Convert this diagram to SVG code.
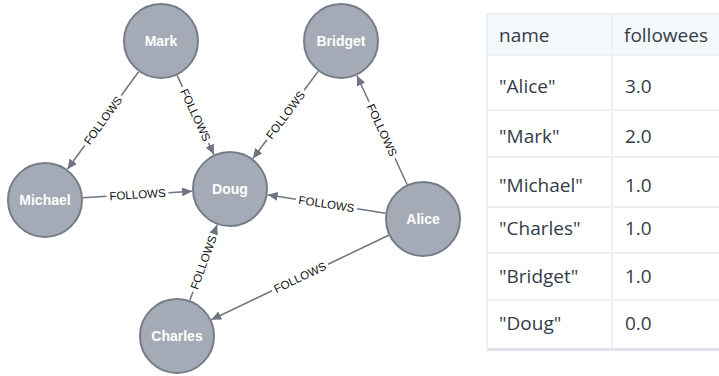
<svg xmlns="http://www.w3.org/2000/svg" width="719" height="376" viewBox="0 0 719 376">
<style>
.node circle{fill:#A5ABB6;stroke:#767D89;stroke-width:2}
.node text{fill:#FFFFFF;font-family:"Liberation Sans",Arial,sans-serif;font-size:14px;font-weight:bold;text-anchor:middle;dominant-baseline:central}
.edges line{stroke:#6E7481;stroke-width:1.5;fill:none}
.edges text{fill:#111111;font-family:"Liberation Sans",Arial,sans-serif;font-size:11.5px;text-anchor:middle;dominant-baseline:central}
.tbl text{fill:#343C48;font-family:"Open Sans",sans-serif;font-size:19px}
.sep{fill:#EDF0F4}
</style>
<defs>
<marker id="arr" markerUnits="userSpaceOnUse" markerWidth="11" markerHeight="9" refX="10" refY="4.5" orient="auto">
<path d="M0,0 L10,4.5 L0,9 z" fill="#6E7481"/>
</marker>
</defs>
<rect width="719" height="376" fill="#FFFFFF"/>
<g class="edges" id="connectors">
<line x1="138.6" y1="71.7" x2="121.3" y2="95.5"/><line x1="84.7" y1="145.5" x2="67.4" y2="169.3" marker-end="url(#arr)"/>
<text transform="translate(103,120.5) rotate(-53.9)">FOLLOWS</text>
<line x1="177.1" y1="75.4" x2="182.4" y2="86.9"/><line x1="208.6" y1="143.1" x2="213.9" y2="154.6" marker-end="url(#arr)"/>
<text transform="translate(195.5,115) rotate(65)">FOLLOWS</text>
<line x1="82.9" y1="197.7" x2="106.6" y2="196.3"/><line x1="168.4" y1="192.7" x2="192.1" y2="191.3" marker-end="url(#arr)"/>
<text transform="translate(137.5,194.5) rotate(-3.4)">FOLLOWS</text>
<line x1="318.2" y1="71.4" x2="304.1" y2="90.2"/><line x1="266.9" y1="139.8" x2="252.8" y2="158.6" marker-end="url(#arr)"/>
<text transform="translate(285.5,115) rotate(-53.1)">FOLLOWS</text>
<line x1="407.1" y1="184.5" x2="395.0" y2="158.2"/><line x1="369.0" y1="101.8" x2="356.9" y2="75.5" marker-end="url(#arr)"/>
<text transform="translate(382,130) rotate(65.3)">FOLLOWS</text>
<line x1="385.4" y1="213.2" x2="357.1" y2="208.8"/><line x1="295.9" y1="199.2" x2="267.6" y2="194.8" marker-end="url(#arr)"/>
<text transform="translate(326.5,204) rotate(8.8)">FOLLOWS</text>
<line x1="388.7" y1="235.3" x2="328.0" y2="264.2"/><line x1="272.0" y1="290.8" x2="211.3" y2="319.7" marker-end="url(#arr)"/>
<text transform="translate(300,277.5) rotate(-25.4)">FOLLOWS</text>
<line x1="189.9" y1="300.3" x2="193.0" y2="291.7"/><line x1="214.0" y1="233.3" x2="217.1" y2="224.7" marker-end="url(#arr)"/>
<text transform="translate(203.5,262.5) rotate(-70.2)">FOLLOWS</text>
</g>
<g class="node" id="node-mark"><circle cx="161" cy="41" r="37"/><text x="161" y="41">Mark</text></g>
<g class="node" id="node-bridget"><circle cx="341" cy="41" r="37"/><text x="341" y="41">Bridget</text></g>
<g class="node" id="node-michael"><circle cx="45" cy="200" r="37"/><text x="45" y="200">Michael</text></g>
<g class="node" id="node-doug"><circle cx="230" cy="189" r="37"/><text x="230" y="189">Doug</text></g>
<g class="node" id="node-alice"><circle cx="423" cy="219" r="37"/><text x="423" y="219">Alice</text></g>
<g class="node" id="node-charles"><circle cx="177" cy="336" r="37"/><text x="177" y="336">Charles</text></g>
<g class="tbl" id="table">
<rect x="487" y="14" width="232" height="41" fill="#F5F8FB"/>
<rect x="487" y="348" width="232" height="3" fill="#DFE4EA"/>
<rect class="sep" x="486" y="14" width="2" height="335"/>
<rect class="sep" x="611" y="14" width="2" height="334"/>
<rect class="sep" x="487" y="13" width="232" height="2"/>
<rect class="sep" x="487" y="54" width="232" height="2"/>
<rect class="sep" x="487" y="109" width="232" height="2"/>
<rect class="sep" x="487" y="156" width="232" height="2"/>
<rect class="sep" x="487" y="206" width="232" height="2"/>
<rect class="sep" x="487" y="252" width="232" height="2"/>
<rect class="sep" x="487" y="299" width="232" height="2"/>
<text x="499" y="42">name</text><text x="624" y="42">followees</text>
<text x="499" y="93">"Alice"</text><text x="625" y="93">3.0</text>
<text x="499" y="143">"Mark"</text><text x="625" y="143">2.0</text>
<text x="499" y="192">"Michael"</text><text x="625" y="192">1.0</text>
<text x="499" y="235">"Charles"</text><text x="625" y="235">1.0</text>
<text x="499" y="283">"Bridget"</text><text x="625" y="283">1.0</text>
<text x="499" y="330">"Doug"</text><text x="625" y="330">0.0</text>
</g>
</svg>
